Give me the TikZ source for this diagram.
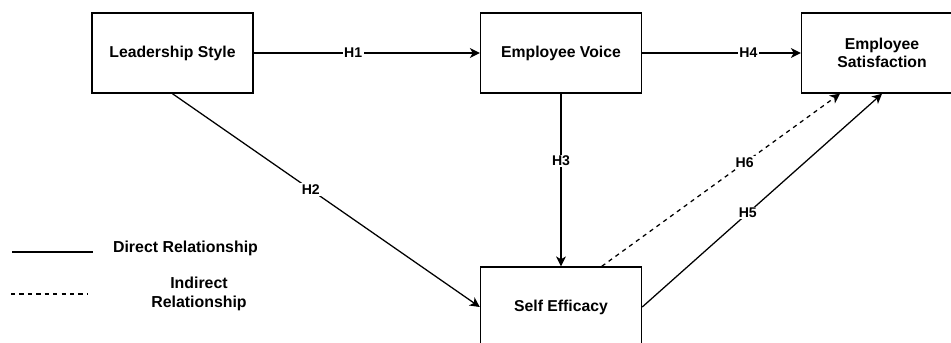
\documentclass[tikz,border=0pt]{standalone}
\usepackage{fontspec}
\setmainfont{Liberation Sans}
\usetikzlibrary{arrows.meta}

\tikzset{
    block/.style={draw, line width=1pt, minimum width=4.025cm, minimum height=2cm,
        align=center, font=\fontsize{11.2}{13}\selectfont\bfseries},
    hyp/.style={fill=white, inner sep=1pt, font=\fontsize{10}{12}\selectfont\bfseries},
    rel/.style={line width=0.9pt, -{Stealth[length=7pt, width=7pt, inset=2pt]}},
    legendtext/.style={align=center, font=\fontsize{11.3}{13}\selectfont\bfseries}
}

\begin{document}
\begin{tikzpicture}[x=0.025cm, y=-0.025cm]
    \useasboundingbox (0,0) rectangle (951,342);
    \clip (0,0) rectangle (951,342);

    \node[block] (ls) at (172.5, 53) {Leadership Style};
    \node[block] (ev) at (561, 53) {Employee Voice};
    \node[block] (es) at (882, 53) {Employee\\Satisfaction};
    \node[block] (se) at (561, 307) {Self Efficacy};

    \draw (ls) edge[rel] node[hyp, pos=0.44]{H1} (ev)
          (ev) edge[rel] node[hyp, pos=0.67]{H4} (es)
          (ls.south) edge[rel] node[hyp, pos=0.45]{H2} (se.west)
          (ev) edge[rel] node[hyp, pos=0.39]{H3} (se)
          ([xshift=1.02cm]se.north) edge[rel, dashed] node[hyp, pos=0.6]{H6} ([xshift=-1.05cm]es.south)
          (se.east) edge[rel] node[hyp, pos=0.44]{H5} (es.south)
          ;

    % legend
    \coordinate (d1) at (12, 252);
    \coordinate (d2) at (93, 252);
    \coordinate (i1) at (11, 294);
    \coordinate (i2) at (88, 294);
    \node[legendtext] (dtext) at (185.5, 248) {Direct Relationship};
    \node[legendtext] (itext) at (199, 294) {Indirect\\Relationship};
    \draw[line width=1pt] (d1) -- (d2);
    \draw[line width=0.9pt, dashed] (i1) -- (i2);
\end{tikzpicture}
\end{document}
